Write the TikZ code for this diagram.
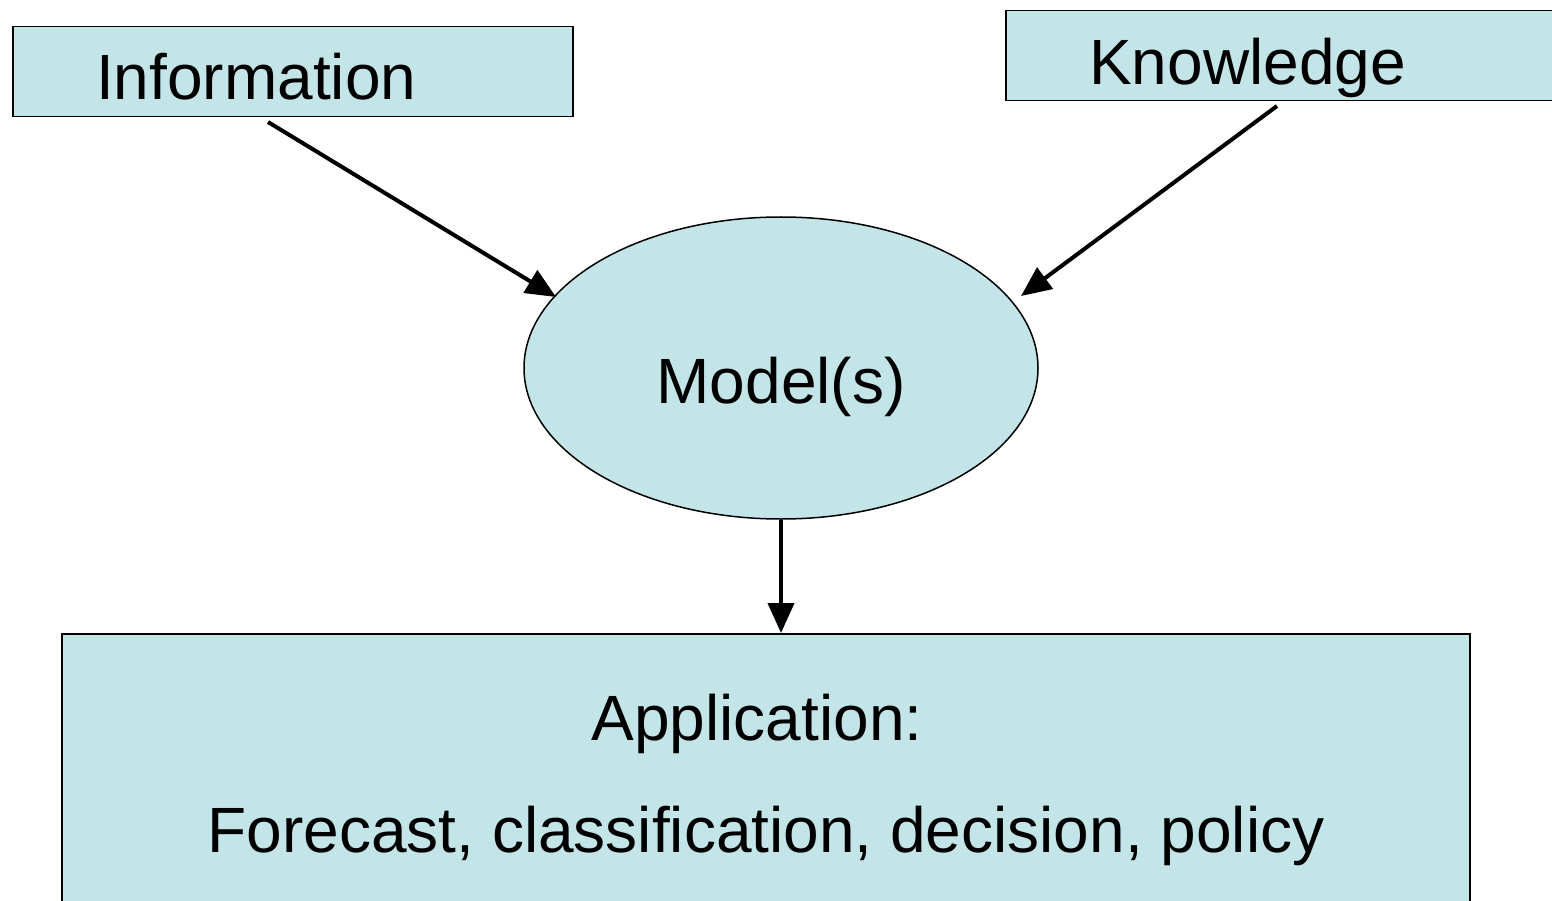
\documentclass[tikz,border=0pt]{standalone}
\usepackage{fontspec}
\setmainfont{Liberation Sans}
\usetikzlibrary{arrows.meta,shapes.geometric}
\definecolor{boxfill}{RGB}{196,229,232}
\tikzset{
  box/.style={draw=black, fill=boxfill, line width=1.5pt, rectangle, anchor=north west, inner sep=0pt},
  lbl/.style={font=\fontsize{64}{76}\selectfont, inner sep=0pt, anchor=base west},
  conn/.style={line width=4pt, -{Triangle[length=30pt,width=26pt]}}
}
\begin{document}
\begin{tikzpicture}[x=1pt,y=-1pt]
\useasboundingbox (0,0) rectangle (1552,901);
\clip (0,0) rectangle (1552,901);
% boxes
\node[box, minimum width=560pt, minimum height=90pt] (info) at (12,26) {};
\node[lbl] (infot) at (96,100) {Information};
\node[box, minimum width=600pt, minimum height=90pt] (know) at (1005,10) {};
\node[lbl] (knowt) at (1089,85) {Knowledge};
\node[draw=black, fill=boxfill, line width=1.5pt, ellipse, minimum width=514pt, minimum height=302pt, inner sep=0pt] (model) at (781,368) {};
\node[lbl, anchor=base] (modelt) at (781,403) {Model(s)};
\node[box, minimum width=1408pt, minimum height=320pt] (app) at (61,633) {};
\node[lbl, anchor=base] (appt) at (757,740) {Application:};
\node[lbl, anchor=base] (appt2) at (766,852) {Forecast, classification, decision, policy};
% connector ends
\coordinate (i1) at (268,122);
\coordinate (i2) at (556,297);
\coordinate (k1) at (1277,106);
\coordinate (k2) at (1021,296);
\draw[conn] (i1) -- (i2);
\draw[conn] (k1) -- (k2);
\draw[conn] (model.south) -- (app.north -| model.south);
\end{tikzpicture}
\end{document}
